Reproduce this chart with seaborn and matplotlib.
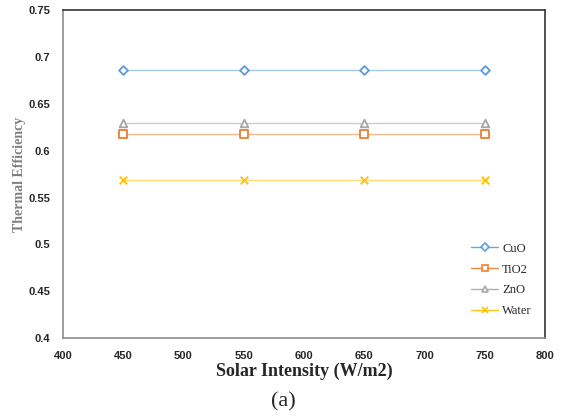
"""Thermal efficiency vs solar intensity for the nanofluids."""

import matplotlib
matplotlib.use("Agg")
import matplotlib.pyplot as plt
import pandas as pd
import seaborn as sns

# values
solar_intensity = [450, 550, 650, 750]
cuo = [0.686, 0.686, 0.686, 0.686]
tio2 = [0.618, 0.618, 0.618, 0.618]
zno = [0.630, 0.630, 0.630, 0.630]
water = [0.569, 0.569, 0.569, 0.569]

fluids = ["CuO", "TiO2", "ZnO", "Water"]
colors = ["#5B9BD5", "#ED7D31", "#A5A5A5", "#FFC000"]
markers = ["D", "s", "^", "x"]
x_ticks = [400, 450, 500, 550, 600, 650, 700, 750, 800]
y_ticks = [0.4, 0.45, 0.5, 0.55, 0.6, 0.65, 0.7, 0.75]


def build_frame():
    rows = []
    for name, values in zip(fluids, [cuo, tio2, zno, water]):
        for x, y in zip(solar_intensity, values):
            rows.append({"Solar Intensity": x, "Efficiency": y, "Fluid": name})
    return pd.DataFrame(rows)


def main():
    sns.set_style("white")
    df = build_frame()

    fig = plt.figure(figsize=(5.61, 4.18), dpi=100)
    ax = fig.add_axes([0.112, 0.191, 0.860, 0.785])

    palette = dict(zip(fluids, colors))
    for name, mk in zip(fluids, markers):
        sub = df[df["Fluid"] == name]
        # line drawn lighter than the markers, like the original
        sns.lineplot(data=sub, x="Solar Intensity", y="Efficiency", ax=ax,
                     color=palette[name], linewidth=1.0, alpha=0.55,
                     legend=False)
        face = palette[name] if mk == "x" else "white"
        sns.scatterplot(data=sub, x="Solar Intensity", y="Efficiency", ax=ax,
                        marker=mk, s=30 if mk != "D" else 20,
                        facecolor=face, edgecolor=palette[name],
                        linewidth=1.3, color=palette[name], legend=False, zorder=3)

    handles = []
    for name, mk in zip(fluids, markers):
        face = palette[name] if mk == "x" else "white"
        h, = ax.plot([], [], color=palette[name], marker=mk,
                     markersize=5 if mk != "D" else 4.5,
                     markerfacecolor=face, markeredgecolor=palette[name],
                     markeredgewidth=1.3, linewidth=1.0, alpha=0.9)
        handles.append(h)
    ax.legend(handles, fluids, loc="lower right", bbox_to_anchor=(0.995, 0.03),
              frameon=False, prop={"family": "Liberation Serif", "size": 9},
              handlelength=2.2, labelspacing=0.7, handletextpad=0.3)

    ax.set_xlim(400, 800)
    ax.set_ylim(0.4, 0.75)
    ax.set_xticks(x_ticks)
    ax.set_yticks(y_ticks)
    ax.set_xticklabels([str(v) for v in x_ticks])
    ax.set_yticklabels([f"{v:g}" for v in y_ticks])
    for lab in ax.get_xticklabels() + ax.get_yticklabels():
        lab.set_fontfamily("Liberation Sans")
        lab.set_fontweight("bold")
        lab.set_fontsize(8)
    ax.tick_params(axis="both", length=0, pad=9)

    ax.set_xlabel("Solar Intensity (W/m2)", fontfamily="Liberation Serif",
                  fontweight="bold", fontsize=13)
    ax.xaxis.label.set_va("center")
    ax.xaxis.set_label_coords(0.5, -0.10)
    ax.set_ylabel("Thermal Efficiency", fontfamily="Liberation Serif",
                  fontweight="bold", fontsize=10, color="#7F7F7F")
    ax.yaxis.label.set_va("center")
    ax.yaxis.set_label_coords(-0.089, 0.5)

    ax.spines["left"].set_color("#8C8C8C")
    ax.spines["bottom"].set_color("#8C8C8C")
    ax.spines["top"].set_color("#333333")
    ax.spines["right"].set_color("#333333")
    for sp in ax.spines.values():
        sp.set_linewidth(1.2)

    fig.text(0.505, 0.039, "(a)", fontfamily="Liberation Serif", fontsize=16,
             ha="center", va="center")

    fig.savefig("out.png", dpi=100)
    plt.close(fig)


if __name__ == "__main__":
    main()
